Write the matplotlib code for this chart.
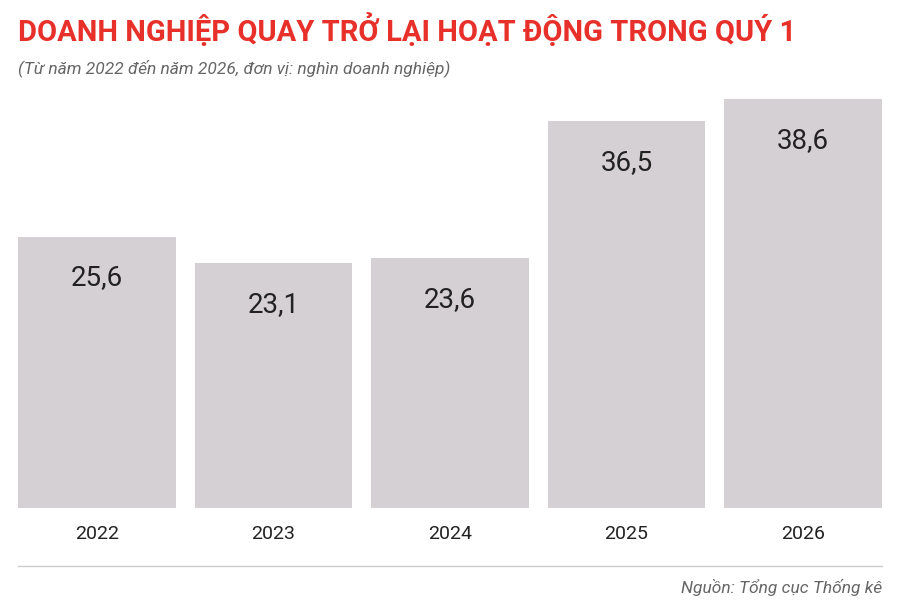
import matplotlib
matplotlib.use("Agg")
import matplotlib.pyplot as plt
from matplotlib.lines import Line2D

years = ["2022", "2023", "2024", "2025", "2026"]
values = [25.6, 23.1, 23.6, 36.5, 38.6]
labels = ["25,6", "23,1", "23,6", "36,5", "38,6"]

plt.rcParams['font.family'] = ['Roboto', 'DejaVu Sans']
fig = plt.figure(figsize=(9, 6.04), dpi=100)
ax = fig.add_axes([18/900, 1-508/604, 864/900, 424/604])
x = list(range(len(years)))
ax.bar(x, values, width=0.895, color="#d4d0d3")
ax.set_xlim(-0.4475, 4.4475)
ax.set_ylim(0, 40)
for xi, v, l in zip(x, values, labels):
    ax.text(xi, v - 3.9, l, ha="center", va="center", fontsize=20, color="#222222")
ax.set_yticks([])
ax.set_xticks(x)
ax.set_xticklabels(years, fontsize=14, color="#222222")
ax.tick_params(axis="x", length=0, pad=12)
for s in ax.spines.values():
    s.set_visible(False)

fig.text(18/900, 1-30/604, "DOANH NGHIỆP QUAY TRỞ LẠI HOẠT ĐỘNG TRONG QUÝ 1",
         fontsize=21, fontweight="bold", color="#e8302a", va="center", ha="left", fontstretch="condensed")
fig.text(18/900, 1-68/604, "(Từ năm 2022 đến năm 2026, đơn vị: nghìn doanh nghiệp)",
         fontsize=12.5, style="italic", color="#666666", va="center", ha="left")
fig.add_artist(Line2D([18/900, 882/900], [1-566/604, 1-566/604], color="#cccccc", lw=1))
fig.text(882/900, 1-587/604, "Nguồn: Tổng cục Thống kê", fontsize=12.5, style="italic",
         color="#666666", va="center", ha="right")
fig.savefig("out.png", dpi=100)
